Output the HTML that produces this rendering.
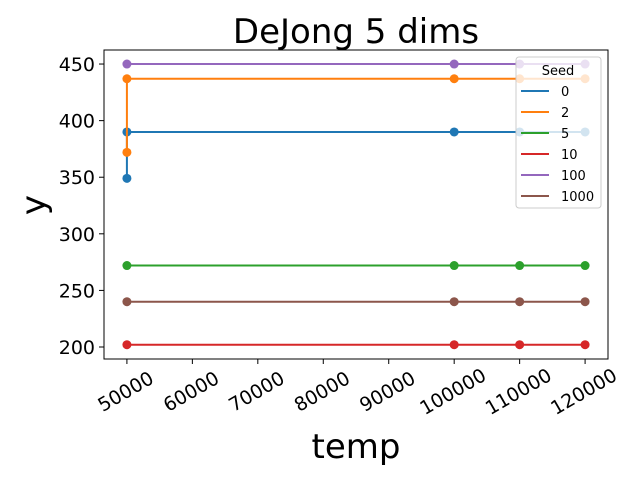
<!DOCTYPE html>
<html><head><meta charset="utf-8"><style>body{margin:0;background:#fff}svg{display:block;font-family:"DejaVu Sans","Liberation Sans",sans-serif}</style></head>
<body>
<svg id="chart" width="640" height="480" viewBox="0 0 640 480" xmlns="http://www.w3.org/2000/svg"></svg>
<script>
const seeds = ["0","2","5","10","100","1000"];
const colors = ["#1f77b4","#ff7f0e","#2ca02c","#d62728","#9467bd","#8c564b"];
const xs0 = [50000,50000,100000,110000,120000];
const ys0 = [349,390,390,390,390];
const xs2 = [50000,50000,100000,110000,120000];
const ys2 = [372,437,437,437,437];
const xs5 = [50000,100000,110000,120000];
const ys5 = [272,272,272,272];
const xs10 = [50000,100000,110000,120000];
const ys10 = [202,202,202,202];
const xs100 = [50000,100000,110000,120000];
const ys100 = [450,450,450,450];
const xs1000 = [50000,100000,110000,120000];
const ys1000 = [240,240,240,240];
const xTicks = [50000,60000,70000,80000,90000,100000,110000,120000];
const yTicks = [200,250,300,350,400,450];

const L=104,R=608,T=50,B=359;
const xMin=46500,xMax=123500,yMin=189.4,yMax=462.4;
const sx=v=>L+(v-xMin)/(xMax-xMin)*(R-L);
const sy=v=>B-(v-yMin)/(yMax-yMin)*(B-T);
const svg=document.getElementById('chart');
const NS='http://www.w3.org/2000/svg';
function mk(tag,attrs,parent){const e=document.createElementNS(NS,tag);for(const k in attrs)e.setAttribute(k,attrs[k]);(parent||svg).appendChild(e);return e;}

const series=[[xs0,ys0],[xs2,ys2],[xs5,ys5],[xs10,ys10],[xs100,ys100],[xs1000,ys1000]];
series.forEach((s,i)=>{
  const g=mk('g',{});
  
  
  const pts=s[0].map((x,j)=>sx(x)+','+sy(s[1][j])).join(' ');
  const pl=mk('polyline',{points:pts,fill:'none',stroke:colors[i],'stroke-width':2},g);
  
  
  s[0].forEach((x,j)=>{
    const c=mk('circle',{cx:sx(x),cy:sy(s[1][j]),r:4.5,fill:colors[i]},g);
    
    
  });
});

const frame=mk('rect',{x:L,y:T,width:R-L,height:B-T,fill:'none',stroke:'#000','stroke-width':1});



xTicks.forEach(v=>{
  const x=sx(v);
  mk('line',{x1:x,y1:B,x2:x,y2:B+5,stroke:'#000'});
  const t=mk('text',{x:0,y:0,'font-size':19,'text-anchor':'middle','dominant-baseline':'central',transform:`translate(${x-1},${B+33}) rotate(-30)`});
  t.textContent=v;
  
  
});
yTicks.forEach(v=>{
  const y=sy(v);
  mk('line',{x1:L-5,y1:y,x2:L,y2:y,stroke:'#000'});
  const t=mk('text',{x:L-9,y:y+7,'font-size':19,'text-anchor':'end'});
  t.textContent=v;
  
  
});

const title=mk('text',{x:356,y:43,'font-size':34,'text-anchor':'middle'});
title.textContent='DeJong 5 dims';


const xl=mk('text',{x:356,y:458,'font-size':34,'text-anchor':'middle'});
xl.textContent='temp';


const yl=mk('text',{x:0,y:0,'font-size':34,'text-anchor':'middle',transform:'translate(45,205) rotate(-90)'});
yl.textContent='y';



const lg=mk('g',{});


mk('rect',{x:516,y:57,width:85,height:151,rx:3,fill:'#fff','fill-opacity':0.8,stroke:'#ccc'},lg);
const lt=mk('text',{x:558,y:75,'font-size':13,'text-anchor':'middle'},lg);
lt.textContent='Seed';


seeds.forEach((s,i)=>{
  const y=91+i*21;
  const e=mk('g',{},lg);
  
  
  mk('line',{x1:521,y1:y,x2:549,y2:y,stroke:colors[i],'stroke-width':2},e);
  const t=mk('text',{x:561,y:y+5,'font-size':13},e);
  t.textContent=s;
});
</script>
</body></html>
